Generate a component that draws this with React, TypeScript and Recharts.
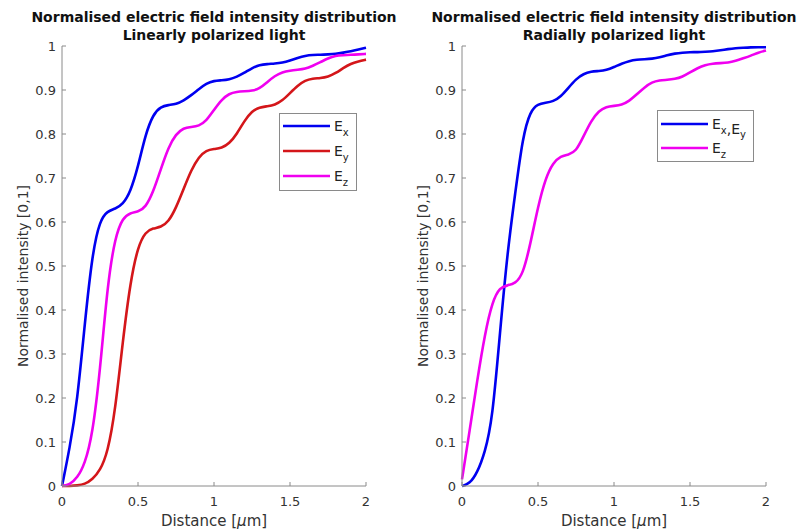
import React from "react";
import { LineChart, Line, XAxis, YAxis } from "recharts";

// distance in micrometres, sampled every 0.05
const distance = [
  0, 0.05, 0.1, 0.15, 0.2, 0.25, 0.3, 0.35, 0.4, 0.45, 0.5, 0.55, 0.6, 0.65,
  0.7, 0.75, 0.8, 0.85, 0.9, 0.95, 1, 1.05, 1.1, 1.15, 1.2, 1.25, 1.3, 1.35,
  1.4, 1.45, 1.5, 1.55, 1.6, 1.65, 1.7, 1.75, 1.8, 1.85, 1.9, 1.95, 2,
];

// linearly polarized light
const linEx = [
  0, 0.085, 0.19, 0.37, 0.53, 0.605, 0.625, 0.63, 0.64, 0.668, 0.725, 0.8,
  0.845, 0.862, 0.866, 0.868, 0.876, 0.888, 0.902, 0.915, 0.921, 0.922, 0.924,
  0.93, 0.939, 0.95, 0.957, 0.959, 0.96, 0.962, 0.967, 0.973, 0.978, 0.98,
  0.98, 0.981, 0.982, 0.985, 0.988, 0.992, 0.996,
];
const linEy = [
  0, 0, 0.001, 0.004, 0.015, 0.035, 0.075, 0.17, 0.33, 0.465, 0.545, 0.578,
  0.586, 0.588, 0.6, 0.632, 0.675, 0.718, 0.748, 0.763, 0.766, 0.768, 0.778,
  0.8, 0.83, 0.852, 0.861, 0.863, 0.866, 0.876, 0.893, 0.91, 0.922, 0.926,
  0.927, 0.93, 0.938, 0.95, 0.96, 0.965, 0.969,
];
const linEz = [
  0, 0.003, 0.018, 0.05, 0.115, 0.26, 0.46, 0.567, 0.61, 0.621, 0.623, 0.633,
  0.668, 0.72, 0.77, 0.8, 0.814, 0.816, 0.818, 0.83, 0.855, 0.878, 0.892,
  0.896, 0.897, 0.898, 0.903, 0.918, 0.932, 0.941, 0.944, 0.946, 0.948, 0.955,
  0.963, 0.972, 0.978, 0.979, 0.98, 0.981, 0.982,
];

// radially polarized light
const radExy = [
  0, 0.005, 0.03, 0.075, 0.15, 0.35, 0.535, 0.665, 0.795, 0.853, 0.868, 0.871,
  0.874, 0.885, 0.905, 0.925, 0.937, 0.942, 0.943, 0.945, 0.952, 0.96, 0.966,
  0.969, 0.97, 0.971, 0.974, 0.979, 0.983, 0.985, 0.986, 0.986, 0.987, 0.988,
  0.99, 0.993, 0.995, 0.996, 0.997, 0.997, 0.997,
];
const radEz = [
  0.015, 0.125, 0.24, 0.345, 0.42, 0.452, 0.456, 0.46, 0.48, 0.55, 0.635, 0.7,
  0.735, 0.75, 0.753, 0.76, 0.795, 0.83, 0.853, 0.862, 0.864, 0.866, 0.875,
  0.89, 0.906, 0.918, 0.922, 0.923, 0.925, 0.93, 0.94, 0.95, 0.957, 0.96,
  0.961, 0.962, 0.966, 0.972, 0.978, 0.985, 0.99,
];

const xTicks = [0, 0.5, 1, 1.5, 2];
const yTicks = [0, 0.1, 0.2, 0.3, 0.4, 0.5, 0.6, 0.7, 0.8, 0.9, 1];

const BLUE = "#0000f0";
const RED = "#d4161a";
const MAGENTA = "#f000f0";
const AXIS = "#8a8a8a";
const FONT = "'DejaVu Sans', 'Liberation Sans', Arial, sans-serif";

interface Series {
  key: string;
  values: number[];
  color: string;
  sub: string[]; // legend label: E with subscripts
}

interface PanelProps {
  left: number;
  subtitle: string;
  series: Series[];
  legendBox: { x: number; y: number; w: number; h: number };
  rowY: number[];
}

function Panel({ left, subtitle, series, legendBox, rowY }: PanelProps) {
  const data = distance.map((d, i) => {
    const row: Record<string, number> = { d };
    series.forEach((s) => (row[s.key] = s.values[i]));
    return row;
  });
  const tickStyle = { fill: "#333", fontSize: 13, fontFamily: FONT };
  const lx = legendBox.x + 4;

  return (
    <div style={{ position: "absolute", left, top: 0, width: 400, height: 529 }}>
      <LineChart
        width={400}
        height={529}
        data={data}
        margin={{ top: 46, right: 34, bottom: 13, left: 32 }}
      >
        <XAxis
          dataKey="d"
          type="number"
          domain={[0, 2]}
          ticks={xTicks}
          height={30}
          stroke={AXIS}
          tickSize={-4}
          tickMargin={15}
          tick={tickStyle}
        />
        <XAxis
          xAxisId="top"
          orientation="top"
          type="number"
          domain={[0, 2]}
          ticks={xTicks}
          height={0}
          stroke={AXIS}
          tickSize={-4}
          tick={false}
        />
        <YAxis
          type="number"
          domain={[0, 1]}
          ticks={yTicks}
          width={30}
          stroke={AXIS}
          tickSize={-4}
          tickMargin={10}
          tick={tickStyle}
        />
        <YAxis
          yAxisId="right"
          orientation="right"
          type="number"
          domain={[0, 1]}
          ticks={yTicks}
          width={0}
          stroke={AXIS}
          tickSize={-4}
          tick={false}
        />
        {series.map((s) => (
          <Line
            key={s.key}
            type="basis"
            dataKey={s.key}
            stroke={s.color}
            strokeWidth={2.6}
            dot={false}
            isAnimationActive={false}
          />
        ))}
      </LineChart>

      <svg
        width={400}
        height={529}
        style={{ position: "absolute", left: 0, top: 0, pointerEvents: "none" }}
        fontFamily={FONT}
      >
        <text x={214} y={22} textAnchor="middle" fontSize={14} fontWeight="bold" fill="#111">
          Normalised electric field intensity distribution
        </text>
        <text x={214} y={40} textAnchor="middle" fontSize={14} fontWeight="bold" fill="#111">
          {subtitle}
        </text>
        <text x={214} y={526} textAnchor="middle" fontSize={15} fill="#333">
          Distance [<tspan fontStyle="italic">μ</tspan>m]
        </text>
        <text
          x={28}
          y={276}
          textAnchor="middle"
          fontSize={14}
          fill="#333"
          transform="rotate(-90, 28, 276)"
        >
          Normalised intensity [0,1]
        </text>

        <rect
          x={legendBox.x + 0.5}
          y={legendBox.y + 0.5}
          width={legendBox.w}
          height={legendBox.h}
          fill="#fff"
          stroke={AXIS}
        />
        {series.map((s, i) => (
          <g key={s.key}>
            <line x1={lx} x2={lx + 47} y1={rowY[i]} y2={rowY[i]} stroke={s.color} strokeWidth={2.6} />
            <text x={lx + 51} y={rowY[i] + 5} fontSize={14} fill="#222">
              {s.sub.map((sb, j) => (
                <React.Fragment key={j}>
                  <tspan>{j > 0 ? ",E" : "E"}</tspan>
                  <tspan fontSize={10} dy={4.5}>{sb}</tspan>
                  <tspan dy={-4.5}>{""}</tspan>
                </React.Fragment>
              ))}
            </text>
          </g>
        ))}
      </svg>
    </div>
  );
}

export default function App() {
  return (
    <div
      style={{
        position: "absolute",
        left: 0,
        top: 0,
        width: 803,
        height: 529,
        background: "#fff",
        overflow: "hidden",
      }}
    >
      <Panel
        left={0}
        subtitle="Linearly polarized light"
        series={[
          { key: "ex", values: linEx, color: BLUE, sub: ["x"] },
          { key: "ey", values: linEy, color: RED, sub: ["y"] },
          { key: "ez", values: linEz, color: MAGENTA, sub: ["z"] },
        ]}
        legendBox={{ x: 279, y: 113, w: 77, h: 77 }}
        rowY={[126, 151, 176]}
      />
      <Panel
        left={400}
        subtitle="Radially polarized light"
        series={[
          { key: "exy", values: radExy, color: BLUE, sub: ["x", "y"] },
          { key: "ez", values: radEz, color: MAGENTA, sub: ["z"] },
        ]}
        legendBox={{ x: 257, y: 110, w: 96, h: 51 }}
        rowY={[124, 148]}
      />
    </div>
  );
}
